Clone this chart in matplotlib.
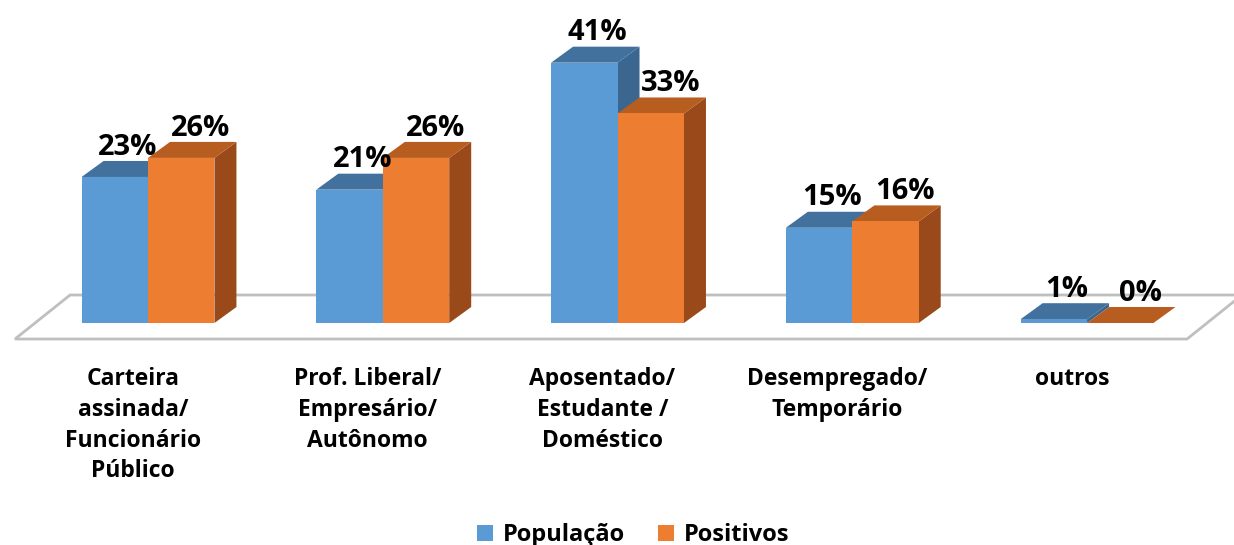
import numpy as np
import matplotlib
matplotlib.use("Agg")
from matplotlib import pyplot as plt
from matplotlib.patches import Polygon, Patch

# data
categories = ["Carteira\nassinada/\nFuncionário\nPúblico",
              "Prof. Liberal/\nEmpresário/\nAutônomo",
              "Aposentado/\nEstudante /\nDoméstico",
              "Desempregado/\nTemporário",
              "outros"]
populacao = [23, 21, 41, 15, 0.6]
positivos = [26, 26, 33, 16, 0]
series_names = ["População", "Positivos"]

# colours (front, top, side)
blue = ("#5b9bd5", "#41719c", "#3a6690")
orange = ("#ed7d31", "#b85d20", "#9a4a1a")

plt.rcParams['font.family'] = ['Open Sans', 'DejaVu Sans']

fig = plt.figure(figsize=(12.34, 5.45), dpi=100)
ax = fig.add_axes([0, 0, 1, 1])
ax.set_xlim(-0.6305, 4.626)
ax.set_ylim(-34.96, 50.87)
ax.axis('off')

w = 0.283      # bar width
ddx = 0.0937   # depth offset x
ddy = 2.52     # depth offset y

# floor
floor = Polygon([(-0.5666, -2.52), (4.426, -2.52), (4.66, 4.41), (-0.332, 4.41)],
                closed=True, facecolor='white', edgecolor='#bfbfbf', lw=2.0, zorder=1)
ax.add_patch(floor)

x = np.arange(len(categories))


def box(x0, h, cols, z):
    x1 = x0 + w
    side = Polygon([(x1, 0), (x1 + ddx, ddy), (x1 + ddx, h + ddy), (x1, h)],
                   closed=True, facecolor=cols[2], edgecolor='none', zorder=z)
    top = Polygon([(x0, h), (x1, h), (x1 + ddx, h + ddy), (x0 + ddx, h + ddy)],
                  closed=True, facecolor=cols[1], edgecolor='none', zorder=z)
    ax.add_patch(side)
    ax.add_patch(top)
    ax.bar(x0, h, width=w, align='edge', color=cols[0], zorder=z, lw=0)


for i in x:
    box(i - w, populacao[i], blue, 3)
    box(i, positivos[i], orange, 4)
    ax.text(i - w / 2 + ddx * 0.6, populacao[i] + ddy + 1.0, "%.0f%%" % populacao[i],
            ha='center', va='baseline', fontsize=21, fontweight='bold', zorder=6)
    ax.text(i + w / 2 + ddx * 0.9, positivos[i] + ddy + 1.0, "%.0f%%" % positivos[i],
            ha='center', va='baseline', fontsize=21, fontweight='bold', zorder=6)
    ax.text(i - 0.065, -6.9, categories[i], ha='center', va='top', fontsize=16.5,
            fontweight='bold', linespacing=1.38, zorder=6)

handles = [Patch(facecolor=blue[0]), Patch(facecolor=orange[0])]
ax.legend(handles, series_names, loc='center', bbox_to_anchor=(0.513, 0.018),
          ncol=2, frameon=False, handlelength=0.7, handleheight=0.7,
          handletextpad=0.4, columnspacing=1.4,
          prop={'size': 17, 'weight': 'bold'})

fig.savefig("out.png", dpi=100)
